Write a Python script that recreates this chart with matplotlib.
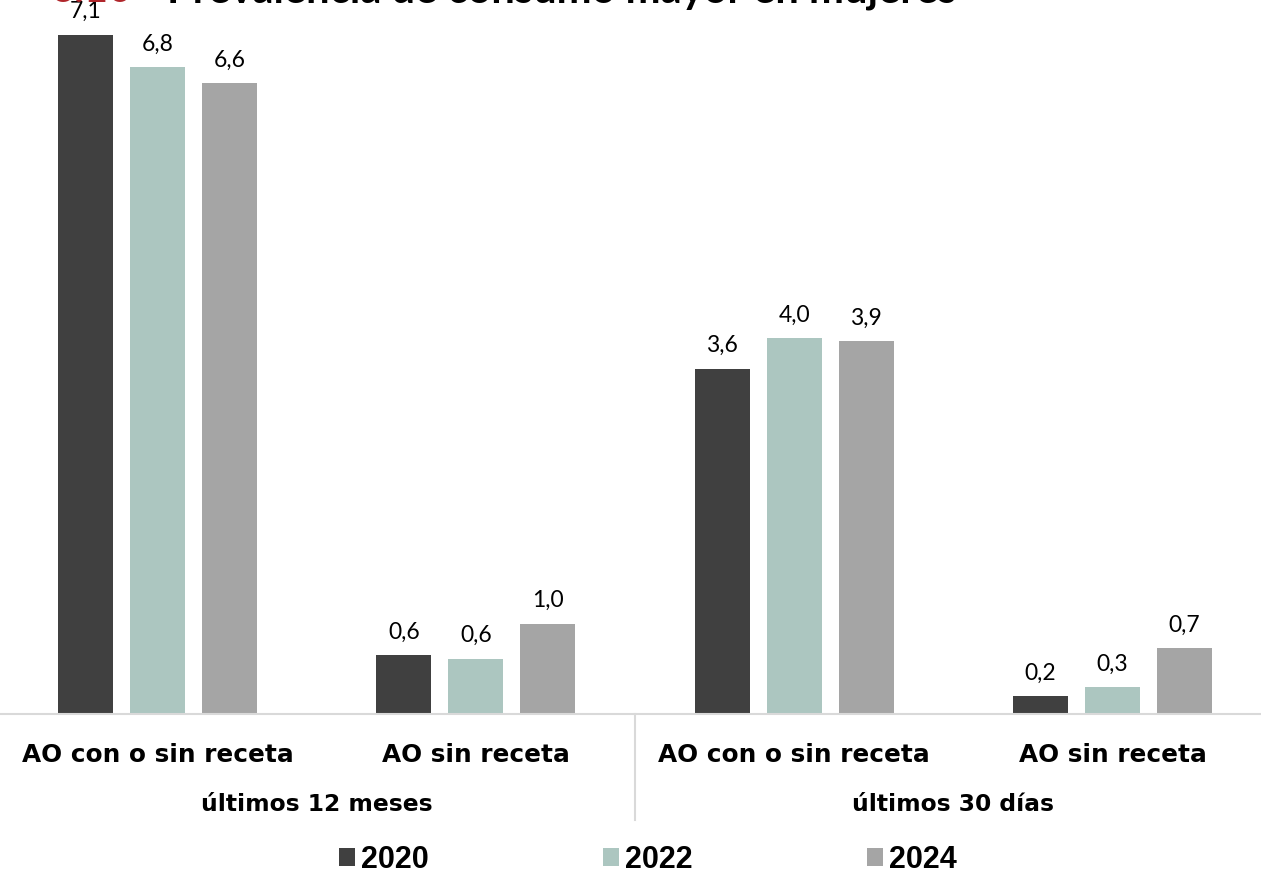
import matplotlib
matplotlib.use('Agg')
import matplotlib.pyplot as plt
import matplotlib.transforms as mtransforms
import numpy as np

# Data.
categorias = ['AO con o sin receta', 'AO sin receta', 'AO con o sin receta', 'AO sin receta']
grupos = ['últimos 12 meses', 'últimos 30 días']
anios = ['2020', '2022', '2024']
v2020 = [7.14, 0.62, 3.63, 0.19]
v2022 = [6.80, 0.58, 3.95, 0.28]
v2024 = [6.63, 0.95, 3.92, 0.69]
etiquetas2020 = ['7,1', '0,6', '3,6', '0,2']
etiquetas2022 = ['6,8', '0,6', '4,0', '0,3']
etiquetas2024 = ['6,6', '1,0', '3,9', '0,7']

colores = ['#404040', '#acc6c0', '#a5a5a5']
W, H = 1261, 876


def plot_data():
    fig = plt.figure(figsize=(W / 100, H / 100), dpi=100)
    # Axes reaches a bit past both figure edges, baseline at y=714 px.
    ax = fig.add_axes([-1.7 / W, (H - 714) / H, 1273.4 / W, 714 / H])

    x = np.arange(len(categorias))
    series = [v2020, v2022, v2024]
    etiquetas = [etiquetas2020, etiquetas2022, etiquetas2024]
    offset = 0.2262
    ancho = 0.1728

    for j in range(3):
        xs = x + (j - 1) * offset
        ax.bar(xs, series[j], width=ancho, color=colores[j], label=anios[j])
        for xi, yi, txt in zip(xs, series[j], etiquetas[j]):
            ax.annotate(txt, (xi, yi), xytext=(0, 11.9), textcoords='offset points',
                        ha='center', va='baseline', fontsize=16.5,
                        family='Lato', color='#000000')

    ax.set_xlim(-0.5, len(categorias) - 0.5)
    ax.set_ylim(0, 714 / 95.15)
    ax.set_xticks([])
    ax.set_yticks([])
    for s in ['top', 'left', 'right']:
        ax.spines[s].set_visible(False)
    ax.spines['bottom'].set_color('#d9d9d9')
    ax.spines['bottom'].set_linewidth(1.5)

    # Category and group labels below the axis.
    tr = mtransforms.blended_transform_factory(ax.transData, fig.transFigure)
    for xi, cat in zip(x, categorias):
        ax.text(xi, (H - 762) / H, cat, transform=tr, ha='center', va='baseline',
                fontsize=17.8, weight='bold', family='DejaVu Sans')
    for k, g in enumerate(grupos):
        ax.text(2 * k + 0.5, (H - 811) / H, g, transform=tr, ha='center', va='baseline',
                fontsize=16.8, weight='bold', family='DejaVu Sans')

    # Separator between the two groups.
    ax.plot([1.5, 1.5], [(H - 714) / H, (H - 820) / H], transform=tr,
            color='#d9d9d9', linewidth=1.5, clip_on=False)

    # Title (mostly cut off at the top edge).
    fig.text(50 / W, 1 - 2 / H, '6.10', color='#b0262b', fontsize=30,
             weight='bold', family='Lato', va='baseline')
    fig.text(167 / W, 1 - 2 / H, 'Prevalencia de consumo mayor en mujeres',
             fontsize=30, weight='bold', family='Lato', va='baseline')

    fig.legend(loc='lower center', bbox_to_anchor=(648 / W, -0.016), ncol=3,
               frameon=False, borderpad=0, handlelength=0.53,
               handleheight=0.53, handletextpad=0.2, columnspacing=5.7,
               prop={'family': 'Liberation Sans', 'weight': 'bold', 'size': 22})

    fig.savefig('out.png', dpi=100)


plot_data()
